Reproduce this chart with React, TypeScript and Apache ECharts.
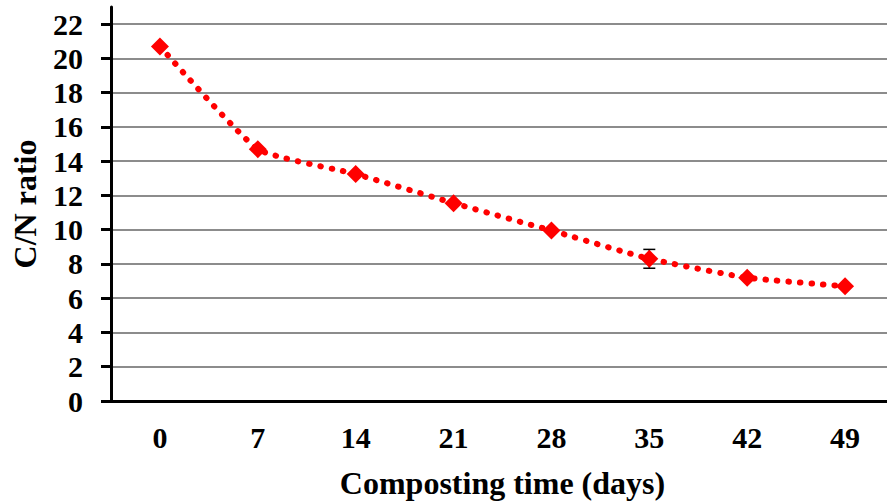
import React, { useEffect, useRef } from "react";
import * as echarts from "echarts";

const days = ["0", "7", "14", "21", "28", "35", "42", "49"];
const cnRatio = [20.7, 14.7, 13.25, 11.55, 9.95, 8.3, 7.2, 6.7];
const cnError = [0, 0, 0, 0, 0, 0.55, 0, 0];
const yTicks = [0, 2, 4, 6, 8, 10, 12, 14, 16, 18, 20, 22];

const FONT = "'Liberation Serif', 'Times New Roman', serif";

export default function App() {
  const ref = useRef<HTMLDivElement>(null);
  useEffect(() => {
    if (!ref.current) return;
    const chart = echarts.init(ref.current, null, { renderer: "svg" });
    const errData = cnError
      .map((e, i) => [i, cnRatio[i] - e, cnRatio[i] + e, e])
      .filter((d) => d[3] > 0);
    chart.setOption({
      animation: false,
      backgroundColor: "#ffffff",
      grid: { left: 111, right: 0, top: 7, bottom: 101, containLabel: false },
      xAxis: {
        type: "category",
        data: days,
        boundaryGap: true,
        name: "Composting time (days)",
        nameLocation: "middle",
        nameGap: 66,
        nameTextStyle: { fontFamily: FONT, fontWeight: "bold", fontSize: 32, color: "#000" },
        axisLine: { lineStyle: { color: "#000", width: 3 } },
        axisTick: { alignWithLabel: true, length: 6, lineStyle: { color: "#000", width: 3 } },
        axisLabel: { fontFamily: FONT, fontWeight: "bold", fontSize: 30, color: "#000", margin: 21 },
        splitLine: { show: false },
      },
      yAxis: {
        type: "value",
        min: 0,
        max: 23,
        name: "C/N ratio",
        nameLocation: "middle",
        nameGap: 70,
        nameRotate: 90,
        nameTextStyle: { fontFamily: FONT, fontWeight: "bold", fontSize: 32, color: "#000" },
        axisLine: { show: true, lineStyle: { color: "#000", width: 3 } },
        axisTick: { show: true, length: 10, customValues: yTicks, lineStyle: { color: "#000", width: 3 } },
        axisLabel: { fontFamily: FONT, fontWeight: "bold", fontSize: 30, color: "#000", margin: 28, customValues: yTicks },
        splitLine: { show: true, lineStyle: { color: "#8c8c8c", width: 2 } },
      },
      series: [
        {
          type: "line",
          data: cnRatio,
          smooth: 0.15,
          symbol: "diamond",
          symbolSize: 18,
          itemStyle: { color: "#ff0000" },
          lineStyle: { color: "#ff0000", width: 6, type: [0.5, 11], cap: "round" },
          z: 3,
        },
        {
          type: "custom",
          data: errData,
          z: 2,
          renderItem: (params: any, api: any) => {
            const x = api.value(0);
            const lo = api.coord([x, api.value(1)]);
            const hi = api.coord([x, api.value(2)]);
            const hw = 6;
            const style = { stroke: "#000", lineWidth: 1.5 };
            return {
              type: "group",
              children: [
                { type: "line", shape: { x1: lo[0], y1: lo[1], x2: hi[0], y2: hi[1] }, style },
                { type: "line", shape: { x1: lo[0] - hw, y1: lo[1], x2: lo[0] + hw, y2: lo[1] }, style },
                { type: "line", shape: { x1: hi[0] - hw, y1: hi[1], x2: hi[0] + hw, y2: hi[1] }, style },
              ],
            };
          },
        },
      ],
    });
    return () => chart.dispose();
  }, []);
  return (
    <div style={{ position: "absolute", left: 0, top: 0, width: 887, height: 504, overflow: "hidden" }}>
      <div ref={ref} style={{ width: 894, height: 504 }} />
    </div>
  );
}
